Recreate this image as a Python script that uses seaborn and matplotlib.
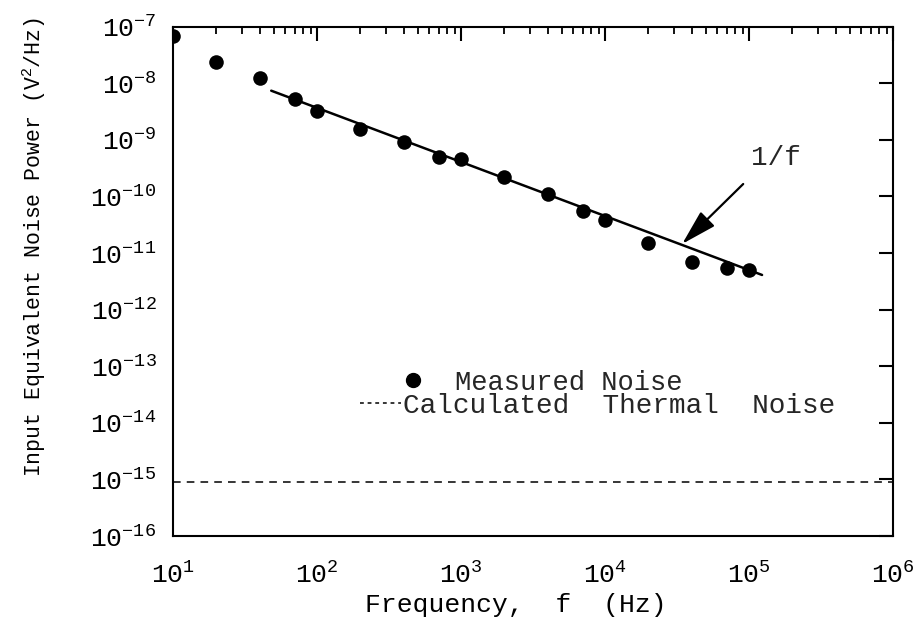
import matplotlib

matplotlib.use("Agg")

import matplotlib.pyplot as plt
import pandas as pd
import seaborn as sns
from matplotlib.lines import Line2D
from matplotlib.ticker import LogLocator, NullLocator

# measured input-equivalent noise power vs frequency
freq_hz = [10, 20, 40, 70, 100, 200, 400, 700, 1000, 2000, 4000, 7000,
           1e4, 2e4, 4e4, 7e4, 1e5]
noise_power = [6.8e-8, 2.4e-8, 1.22e-8, 5.3e-9, 3.2e-9, 1.54e-9, 9.3e-10,
               5.0e-10, 4.5e-10, 2.2e-10, 1.09e-10, 5.6e-11, 3.8e-11,
               1.52e-11, 7.0e-12, 5.4e-12, 5.0e-12]

# 1/f guide line end points
fit_freq = [48, 1.23e5]
fit_power = [7.4e-9, 4.1e-12]

thermal_noise = 9e-16

# arrow for the 1/f label
arrow_tip = (3.43e4, 1.45e-11)
arrow_tail = (9.1e4, 1.66e-10)
label_pos = (1.54e5, 4.8e-10)

sns.set_theme(style="white")
plt.rcParams["font.family"] = ["Liberation Mono", "DejaVu Sans"]
plt.rcParams["mathtext.fontset"] = "custom"
plt.rcParams["mathtext.rm"] = "Liberation Mono"
plt.rcParams["mathtext.it"] = "Liberation Mono"
plt.rcParams["axes.unicode_minus"] = False

fig = plt.figure(figsize=(9.16, 6.34), dpi=100)
ax = fig.add_axes([0.189, 0.1546, 0.786, 0.8033])

df = pd.DataFrame({"f": freq_hz, "p": noise_power})
sns.scatterplot(data=df, x="f", y="p", ax=ax, color="black", s=110,
                edgecolor="black", linewidth=0, zorder=3)
sns.lineplot(x=fit_freq, y=fit_power, ax=ax, color="black", lw=1.8)
ax.axhline(thermal_noise, color="black", lw=1.1, dashes=(5, 4))

ax.set_xscale("log")
ax.set_yscale("log")
ax.set_xlim(10, 1e6)
ax.set_ylim(1e-16, 1e-7)

ax.annotate("", xy=arrow_tip, xytext=arrow_tail,
            arrowprops=dict(arrowstyle="-|>,head_length=1.0,head_width=0.28",
                            color="black", lw=1.6, mutation_scale=22,
                            shrinkA=0, shrinkB=0))
ax.text(*label_pos, "1/f", fontsize=20, ha="center", va="center")

ax.yaxis.set_major_locator(LogLocator(base=10, numticks=20))
ax.yaxis.set_minor_locator(NullLocator())
ax.xaxis.set_major_locator(LogLocator(base=10, numticks=20))
ax.xaxis.set_minor_locator(LogLocator(base=10, subs=range(2, 10), numticks=20))

for side in ax.spines.values():
    side.set_linewidth(1.5)
    side.set_color("black")
ax.tick_params(which="both", direction="in", top=True, right=True,
               colors="black", labelcolor="black")
ax.tick_params(which="major", length=10, width=1.5, labelsize=19)
ax.tick_params(which="minor", length=5, width=1.3)
ax.tick_params(axis="x", which="major", pad=19)
ax.tick_params(axis="y", which="major", pad=12)

ax.set_xlabel("Frequency,  f  (Hz)", fontsize=19, color="black")
ax.set_ylabel("Input Equivalent Noise Power (V$^{2}$/Hz)", fontsize=15.5,
              color="black")
ax.xaxis.set_label_coords(0.476, -0.112)
ax.yaxis.set_label_coords(-0.174, 0.567)

# legend, two rows with different text offsets as in the original
h1 = Line2D([], [], marker="o", ls="none", color="black", markersize=10)
h2 = Line2D([], [], color="black", lw=1.1, dashes=(2.5, 2.5))
leg1 = ax.legend([h1], ["Measured Noise"], loc="center left",
                 bbox_to_anchor=(0.304, 0.301), frameon=False, fontsize=19.5,
                 handlelength=1.55, handletextpad=0.78, borderpad=0,
                 borderaxespad=0)
ax.add_artist(leg1)
ax.legend([h2], ["Calculated  Thermal  Noise"], loc="center left",
          bbox_to_anchor=(0.259, 0.255), frameon=False, fontsize=20,
          handlelength=1.5, handletextpad=0.05, borderpad=0, borderaxespad=0)

fig.savefig("out.png", dpi=100, facecolor="white")
